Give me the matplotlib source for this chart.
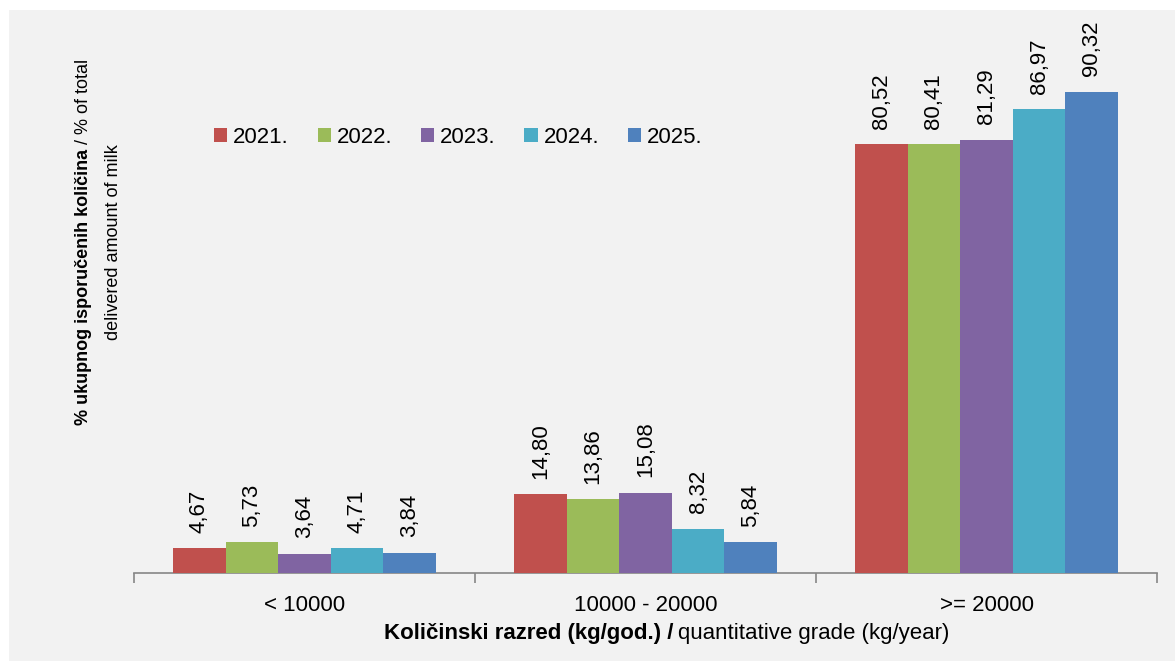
import matplotlib
matplotlib.use("Agg")
from matplotlib import pyplot as plt
import matplotlib.patches as mpatches
import numpy as np

# data
categories = ["< 10000", "10000 - 20000", ">= 20000"]
years = ["2021.", "2022.", "2023.", "2024.", "2025."]
v2021 = [4.67, 14.80, 80.52]
v2022 = [5.73, 13.86, 80.41]
v2023 = [3.64, 15.08, 81.29]
v2024 = [4.71, 8.32, 86.97]
v2025 = [3.84, 5.84, 90.32]
colors = ["#C0504D", "#9BBB59", "#8064A2", "#4BACC6", "#4F81BD"]

plt.rcParams["font.family"] = ["Liberation Sans", "DejaVu Sans"]
FS = 16

W, H = 1175, 661
fig = plt.figure(figsize=(W / 100, H / 100), dpi=100, facecolor="white")
# light gray chart area with thin white border at top/left
fig.patches.append(mpatches.Rectangle((9 / W, 0), 1 - 9 / W, (H - 10) / H,
                                      transform=fig.transFigure, facecolor="#F2F2F2",
                                      edgecolor="none", zorder=-10))

ax = fig.add_axes([134 / W, (H - 573) / H, (1157 - 134) / W, 533 / H])
ax.set_facecolor("none")

series = [v2021, v2022, v2023, v2024, v2025]
x = np.arange(len(categories))
bw = 0.154
for i, (vals, col, yr) in enumerate(zip(series, colors, years)):
    pos = x + (i - 2) * bw
    bars = ax.bar(pos, vals, bw, color=col, edgecolor="none", label=yr, zorder=3)
    for b, v in zip(bars, vals):
        ax.annotate(f"{v:.2f}".replace(".", ","), (b.get_x() + b.get_width() / 2, v),
                    xytext=(0, 11), textcoords="offset points", rotation=90,
                    ha="center", va="bottom", fontsize=FS)

ax.set_xlim(-0.5, 2.5)
ax.set_ylim(0, 100)

for s in ["top", "right", "left"]:
    ax.spines[s].set_visible(False)
ax.spines["bottom"].set_color("#868686")
ax.spines["bottom"].set_linewidth(1.2)
ax.set_yticks([])

ax.set_xticks([-0.5, 0.5, 1.5, 2.5])
ax.set_xticklabels([])
ax.tick_params(axis="x", which="major", direction="out", length=7, color="#868686", width=1.2)
ax.set_xticks(x, minor=True)
ax.set_xticklabels(categories, minor=True, fontsize=FS)
ax.tick_params(axis="x", which="minor", length=0, pad=16)

leg = ax.legend(loc="center", bbox_to_anchor=(0.317, 0.818), ncol=5, frameon=False,
                fontsize=FS, handlelength=0.6, handleheight=0.6, handletextpad=0.25,
                columnspacing=1.3)

renderer = fig.canvas.get_renderer()


def mixed_text(cx, cy, bold, normal, size, rotation=0, gap=5):
    # bold part followed by normal part, whole line centred at (cx, cy) pixels from top-left
    t1 = fig.text(0, 0, bold, fontsize=size, fontweight="bold", rotation=rotation,
                  ha="center", va="center", transform=None)
    t2 = fig.text(0, 0, normal, fontsize=size, rotation=rotation,
                  ha="center", va="center", transform=None)
    e1 = t1.get_window_extent(renderer)
    e2 = t2.get_window_extent(renderer)
    if rotation == 0:
        l1, l2 = e1.width, e2.width
        start = cx - (l1 + gap + l2) / 2
        t1.set_position((start + l1 / 2, H - cy))
        t2.set_position((start + l1 + gap + l2 / 2, H - cy))
    else:
        l1, l2 = e1.height, e2.height
        start = (H - cy) - (l1 + gap + l2) / 2
        t1.set_position((cx, start + l1 / 2))
        t2.set_position((cx, start + l1 + gap + l2 / 2))


mixed_text(667, 634, "Količinski razred (kg/god.) /", "quantitative grade (kg/year)", FS)
mixed_text(84, 242, "% ukupnog isporučenih količina", "/ % of total", 13, rotation=90)
fig.text(114, H - 242, "delivered amount of milk", fontsize=13, rotation=90,
         ha="center", va="center", transform=None)

plt.savefig("out.png", dpi=100, facecolor=fig.get_facecolor())
plt.close()
